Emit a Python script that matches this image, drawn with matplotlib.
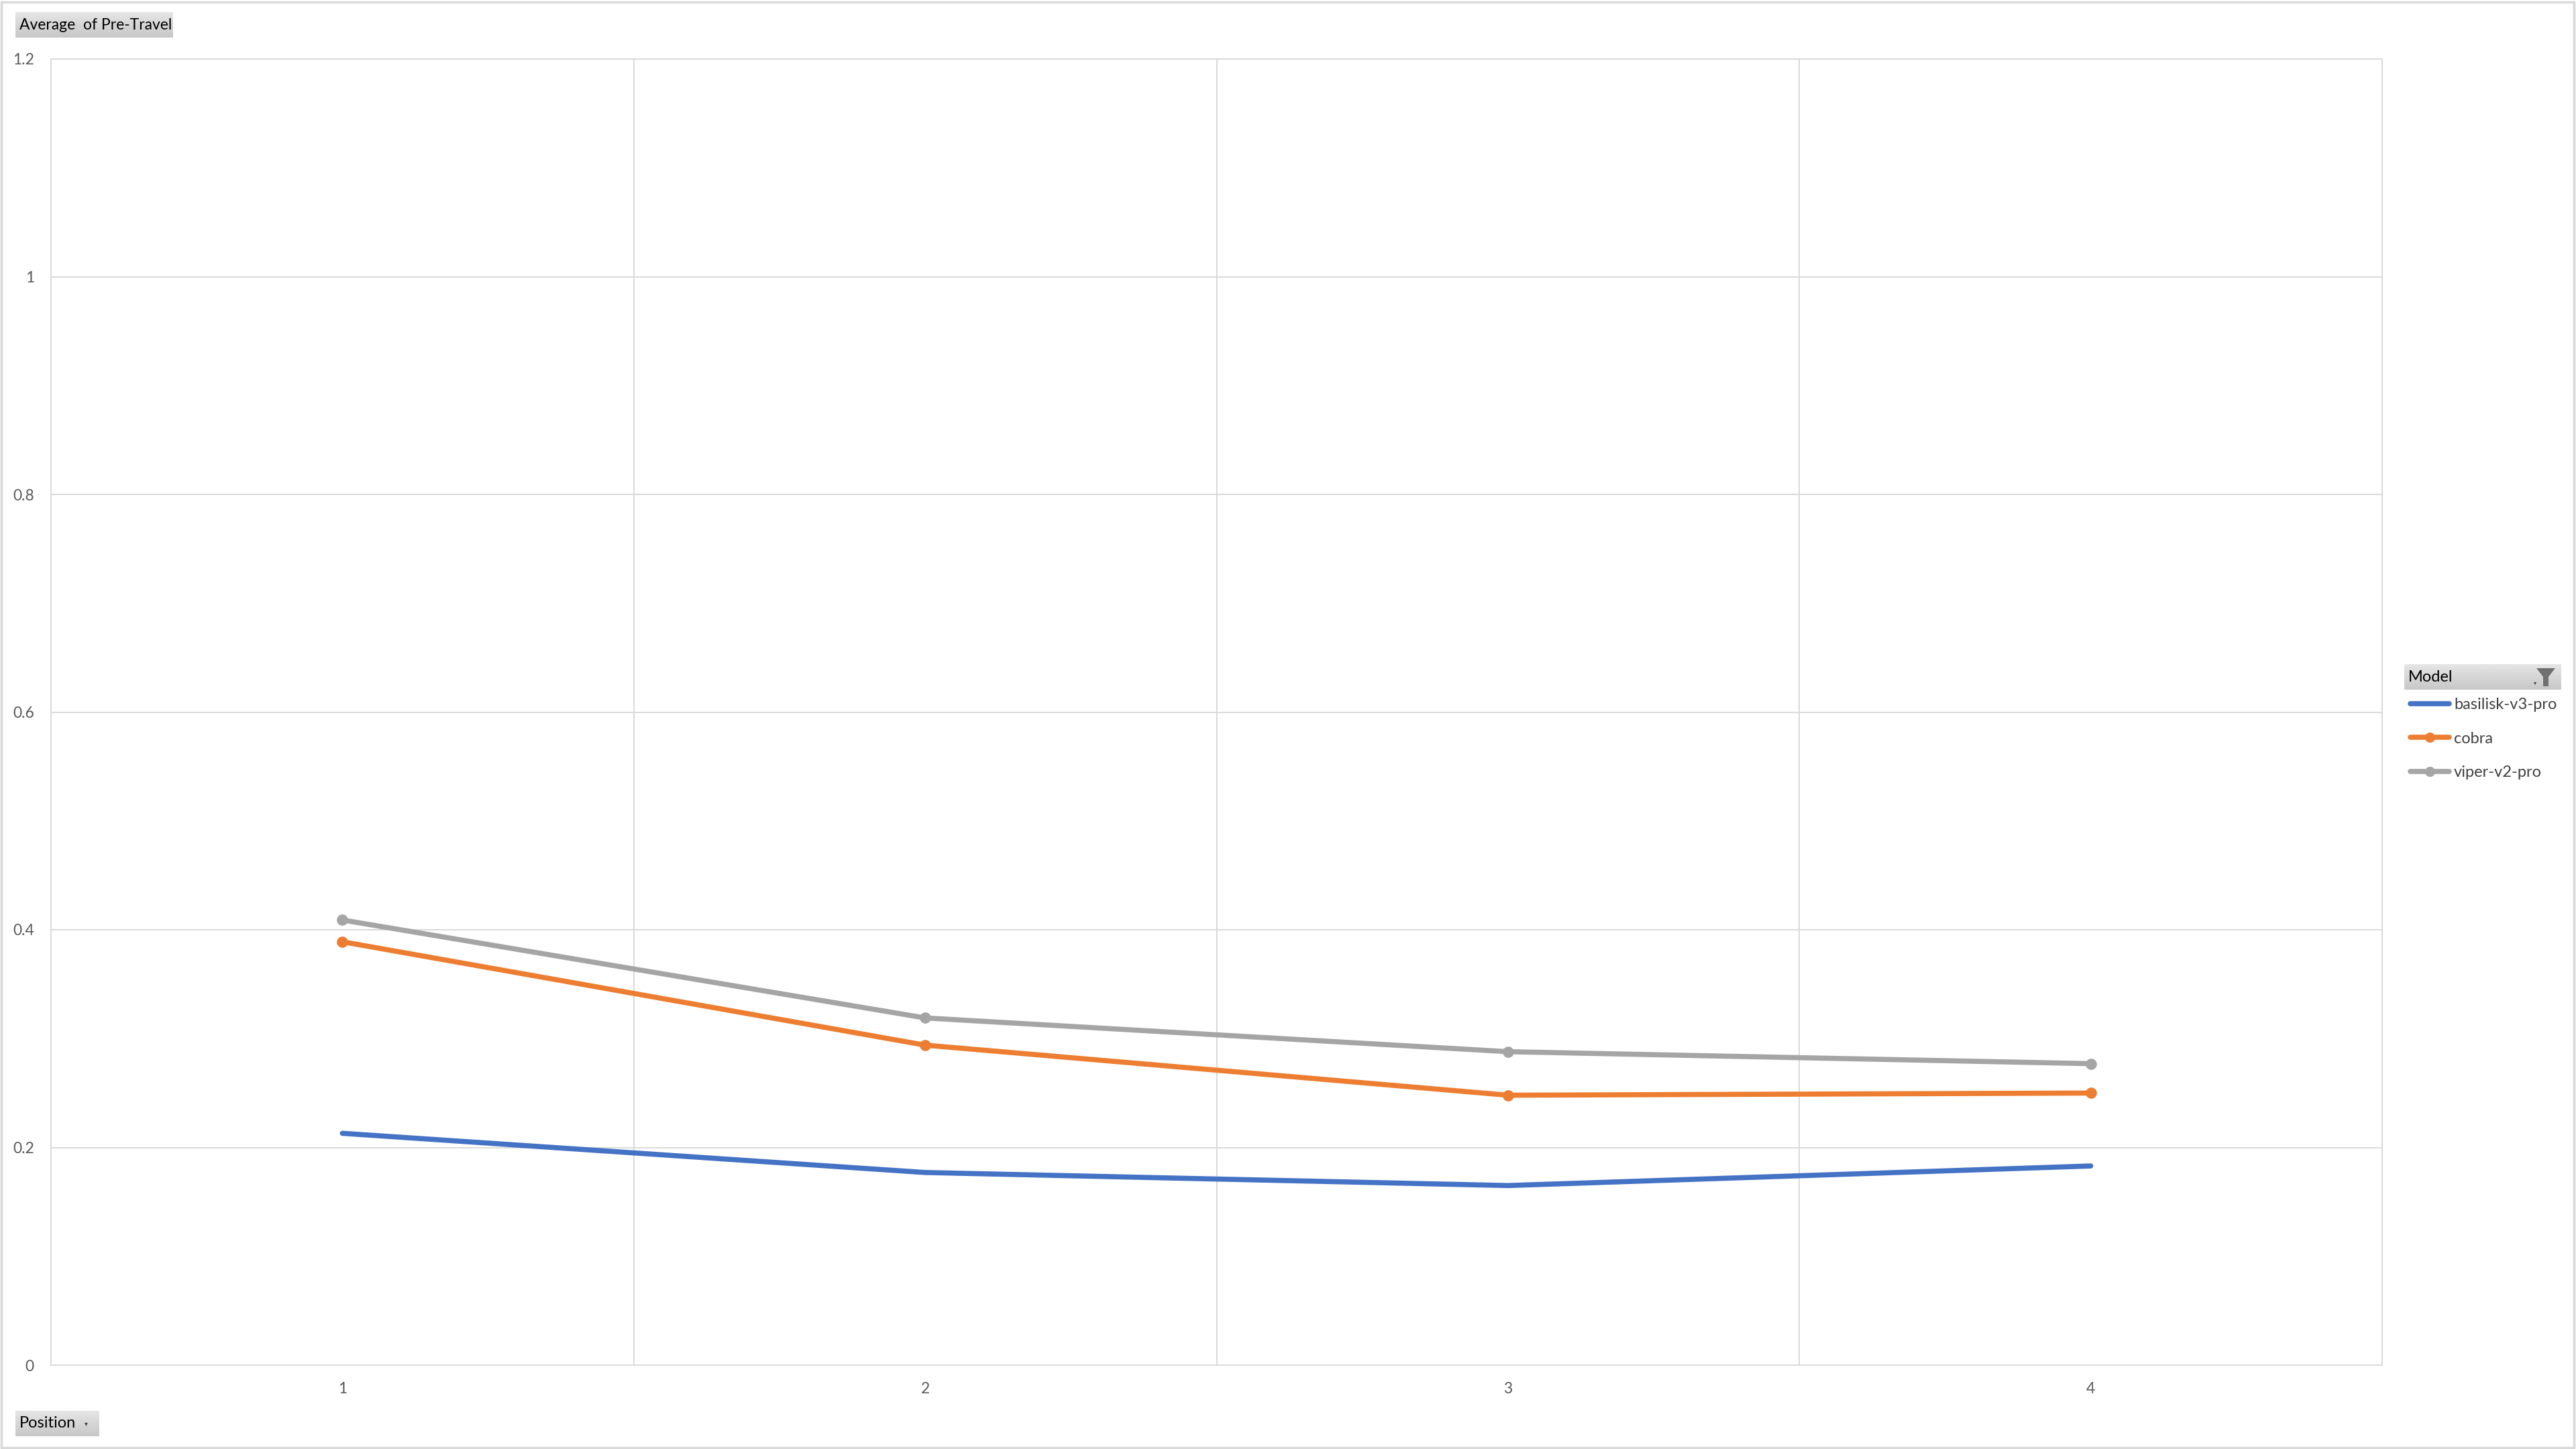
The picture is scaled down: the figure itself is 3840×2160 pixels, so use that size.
import matplotlib.pyplot as plt
import numpy as np
from matplotlib.patches import Rectangle, Polygon

plt.rcParams["font.family"] = ["Lato", "DejaVu Sans"]

positions = [1, 2, 3, 4]
pos_labels = ["1", "2", "3", "4"]
basilisk = [0.213, 0.177, 0.165, 0.183]
cobra = [0.389, 0.294, 0.248, 0.250]
viper = [0.409, 0.319, 0.288, 0.277]
y_ticks = [0, 0.2, 0.4, 0.6, 0.8, 1.0, 1.2]
y_labels = ["0", "0.2", "0.4", "0.6", "0.8", "1", "1.2"]

W, H = 3840, 2160
fig = plt.figure(figsize=(38.4, 21.6), dpi=100)

# outer chart border
fig.patches.append(Rectangle((2 / W, 2 / H), 1 - 5 / W, 1 - 5 / H, transform=fig.transFigure,
                             fill=False, edgecolor="#d9d9d9", linewidth=2.5))

ax = fig.add_axes([76 / W, 1 - 2035 / H, (3551 - 76) / W, (2035 - 88) / H])

ax.plot(positions, basilisk, color="#4472C4", linewidth=5.5, label="basilisk-v3-pro",
        solid_capstyle="round", zorder=3)
ax.plot(positions, cobra, color="#ED7D31", linewidth=5.5, marker="o", markersize=11,
        label="cobra", solid_capstyle="round", zorder=3)
ax.plot(positions, viper, color="#A5A5A5", linewidth=5.5, marker="o", markersize=11,
        label="viper-v2-pro", solid_capstyle="round", zorder=3)

ax.set_xlim(0.5, 4.5)
ax.set_ylim(0, 1.2)
ax.set_xticks(positions)
ax.set_xticklabels(pos_labels)
ax.set_xticks(np.arange(0.5, 4.6, 1), minor=True)
ax.set_yticks(y_ticks)
ax.set_yticklabels(y_labels)
ax.grid(True, which="minor", axis="x", color="#d9d9d9", linewidth=1.4)
ax.grid(True, which="major", axis="y", color="#d9d9d9", linewidth=1.4)
ax.set_axisbelow(True)
ax.tick_params(which="both", length=0, labelsize=16.5, labelcolor="#595959", pad=18)
for s in ax.spines.values():
    s.set_color("#d9d9d9")
    s.set_linewidth(1.4)


def button(x0, y0, x1, y1, text, size, arrow=False):
    bax = fig.add_axes([x0 / W, 1 - y1 / H, (x1 - x0) / W, (y1 - y0) / H])
    grad = np.linspace(0.90, 0.78, 50).reshape(-1, 1)
    bax.imshow(grad, cmap="gray", vmin=0, vmax=1, aspect="auto", extent=[0, 1, 0, 1])
    bax.set_axis_off()
    fig.text((x0 + 6) / W, 1 - (y0 + y1) / 2 / H, text, fontsize=size, color="black",
             va="center", ha="left")
    if arrow:
        fig.text((x1 - 20) / W, 1 - (y0 + y1) / 2 / H, "\u25be", fontsize=7,
                 color="#404040", va="center", ha="center", family="DejaVu Sans")


button(23, 18, 258, 56, "Average  of Pre-Travel", 16.5)
button(23, 2103, 148, 2141, "Position", 17, arrow=True)
button(3584, 990, 3818, 1028, "Model", 17)

# filter icon in the legend header
fx, fy = 3795, 996
funnel = [(fx - 14, fy), (fx + 14, fy), (fx + 4, fy + 13), (fx + 4, fy + 27),
          (fx - 4, fy + 27), (fx - 4, fy + 13)]
fig.patches.append(Polygon([(x / W, 1 - y / H) for x, y in funnel], closed=True,
                           transform=fig.transFigure, facecolor="#707070", edgecolor="none"))
fig.text(3779 / W, 1 - 1018 / H, "\u25be", fontsize=6, color="#404040", ha="center",
         va="center", family="DejaVu Sans")

handles, labels = ax.get_legend_handles_labels()
fig.legend(handles, labels, loc="upper left", bbox_to_anchor=(3593 / W, 1 - 1040 / H),
           frameon=False, fontsize=17, labelcolor="#404040", handlelength=2.45,
           handletextpad=0.3, labelspacing=1.25, numpoints=1, borderpad=0,
           borderaxespad=0, markerscale=0.9)

fig.savefig("out.png", dpi=100)
